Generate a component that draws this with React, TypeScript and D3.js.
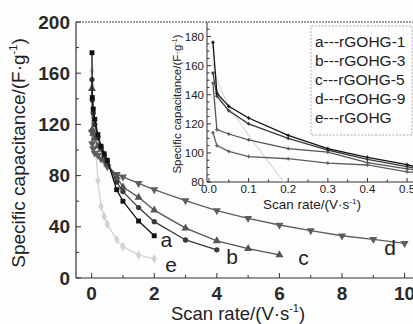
import * as d3 from 'd3';

// scan rates shared by every sample (V/s)
const rates = [0.01, 0.02, 0.05, 0.1, 0.2, 0.3, 0.4, 0.5, 0.8, 1, 1.5, 2, 3, 4, 5, 6, 7, 8, 9, 10];

// specific capacitance (F/g), one value per rate until the series stops
const capA = [176, 141, 132, 124, 112, 103, 97, 92, 69, 60, 44.5, 33];
const capB = [155, 139, 129, 120, 110, 102, 95.6, 90.5, 75, 67.5, 55, 44, 29.7, 22];
const capC = [148, 116, 113, 109, 103, 100.5, 93.3, 89, 79, 71, 63, 53, 39, 29, 23, 18];
const capD = [114, 105, 101, 97.5, 96, 93, 91.7, 87, 81, 79, 74, 69, 60.4, 52.6, 46.6, 41.4, 37, 33, 30.2, 27];
const capE = [162, 150, 132, 112, 76, 56, 48, 42, 30, 24.5, 18, 15];

const seriesKeys = ['a', 'b', 'c', 'd', 'e'];
const legendLabels = ['a---rGOHG-1', 'b---rGOHG-3', 'c---rGOHG-5', 'd---rGOHG-9', 'e---rGOHG'];

const mainYTicks = [0, 40, 80, 120, 160, 200];
const mainXTicks = [0, 2, 4, 6, 8, 10];
const insetYTicks = [80, 100, 120, 140, 160, 180];
const insetXTicks = [0, 0.1, 0.2, 0.3, 0.4, 0.5];

const W = 413;
const H = 324;
const FONT = 'Arial, "Liberation Sans", Helvetica, sans-serif';

const styles: Record<string, { color: string; symbol: d3.SymbolType; size: number; rotate: number }> = {
  a: { color: '#111', symbol: d3.symbolSquare, size: 24, rotate: 0 },
  b: { color: '#3a3a3a', symbol: d3.symbolCircle, size: 22, rotate: 0 },
  c: { color: '#555', symbol: d3.symbolTriangle, size: 28, rotate: 0 },
  d: { color: '#5e5e5e', symbol: d3.symbolTriangle, size: 28, rotate: 180 },
  e: { color: '#d2d2d2', symbol: d3.symbolDiamond, size: 26, rotate: 0 },
};

// where each letter tag sits next to the end of its curve (data coords)
const tagPos: Record<string, [number, number]> = {
  a: [2.2, 24],
  b: [4.3, 11],
  c: [6.6, 10],
  d: [9.35, 18],
  e: [2.35, 5],
};

function App() {
  const all = [capA, capB, capC, capD, capE];
  const data = seriesKeys.map((k, i) => ({
    key: k,
    points: all[i].map((v, j) => [rates[j], v] as [number, number]),
  }));

  // main plot scales
  const x = d3.scaleLinear().domain([-0.5, 10.3]).range([76, 414]);
  const y = d3.scaleLinear().domain([0, 200]).range([278, 22]);

  // inset scales
  const ix = d3.scaleLinear().domain([-0.005, 0.52]).range([207, 415]);
  const iy = d3.scaleLinear().domain([80, 190]).range([182, 22]);

  const line = d3.line<[number, number]>().x(d => x(d[0])).y(d => y(d[1]));
  const iline = d3.line<[number, number]>().x(d => ix(d[0])).y(d => iy(d[1]));

  const mainMinorY = d3.range(0, 201, 20).filter(v => !mainYTicks.includes(v));
  const mainMinorX = d3.range(-0, 11, 1).filter(v => !mainXTicks.includes(v));
  const insetMinorY = d3.range(85, 190, 5).filter(v => v % 20 !== 0);
  const insetMinorX = d3.range(0.05, 0.52, 0.1);

  // draw e first so the dark curves sit on top
  const order = ['e', 'd', 'c', 'b', 'a'];

  return (
    <svg width={W} height={H} style={{ position: 'fixed', left: 0, top: 0, background: '#fff' }} fontFamily={FONT}>
      <defs>
        <clipPath id="insetClip">
          <rect x={207} y={22} width={210} height={160} />
        </clipPath>
      </defs>
      <rect width={W} height={H} fill="#fdfdfd" />

      {/* main frame */}
      <line x1={76} x2={W} y1={22} y2={22} stroke="#444" strokeWidth={1} strokeDasharray="2,1" />
      <line x1={76} x2={76} y1={22} y2={278} stroke="#333" strokeWidth={1.2} />
      <line x1={76} x2={W} y1={278} y2={278} stroke="#333" strokeWidth={1.2} />

      {/* main y ticks */}
      {mainYTicks.map(t => (
        <g key={'my' + t}>
          <line x1={76} x2={81} y1={y(t)} y2={y(t)} stroke="#333" />
          <text x={70} y={y(t)} dy="0.35em" textAnchor="end" fontSize={19} fontWeight="bold" fill="#2a2a2a">{t}</text>
        </g>
      ))}
      {mainMinorY.map(t => (
        <line key={'mmy' + t} x1={76} x2={79} y1={y(t)} y2={y(t)} stroke="#333" />
      ))}
      {/* main x ticks */}
      {mainXTicks.map(t => (
        <g key={'mx' + t}>
          <line x1={x(t)} x2={x(t)} y1={278} y2={273} stroke="#333" />
          <text x={x(t)} y={300} textAnchor="middle" fontSize={19} fontWeight="bold" fill="#2a2a2a">{t}</text>
        </g>
      ))}
      {mainMinorX.map(t => (
        <line key={'mmx' + t} x1={x(t)} x2={x(t)} y1={278} y2={275} stroke="#333" />
      ))}

      {/* axis titles */}
      <text x={238} y={320} textAnchor="middle" fontSize={18.5} fill="#222">
        Scan rate/(V·s<tspan fontSize={11} dy={-8}>-1</tspan><tspan dy={8}>)</tspan>
      </text>
      <text transform="translate(25,153) rotate(-90)" textAnchor="middle" fontSize={19} fill="#222">
        Specific capacitance/(F·g<tspan fontSize={11} dy={-8}>-1</tspan><tspan dy={8}>)</tspan>
      </text>

      {/* main curves */}
      {order.map(k => {
        const s = data.find(d => d.key === k)!;
        const st = styles[k];
        const sym = d3.symbol().type(st.symbol).size(st.size)()!;
        return (
          <g key={'m' + k}>
            <path d={line(s.points)!} fill="none" stroke={st.color} strokeWidth={1.3} />
            {s.points.map((p, j) => (
              <path key={j} d={sym} fill={st.color}
                transform={`translate(${x(p[0])},${y(p[1])}) rotate(${st.rotate})`} />
            ))}
          </g>
        );
      })}

      {/* curve tags */}
      {seriesKeys.map(k => (
        <text key={'t' + k} x={x(tagPos[k][0])} y={y(tagPos[k][1])} fontSize={21} fill="#222">{k}</text>
      ))}

      {/* inset axes */}
      <line x1={207} x2={207} y1={22} y2={182} stroke="#333" strokeWidth={1} />
      <line x1={207} x2={W} y1={182} y2={182} stroke="#333" strokeWidth={1} />
      {insetYTicks.map(t => (
        <g key={'iy' + t}>
          <line x1={207} x2={211} y1={iy(t)} y2={iy(t)} stroke="#333" />
          <text x={204} y={iy(t)} dy="0.35em" textAnchor="end" fontSize={11.5} fill="#222">{t}</text>
        </g>
      ))}
      {insetMinorY.map(t => (
        <line key={'imy' + t} x1={207} x2={209.5} y1={iy(t)} y2={iy(t)} stroke="#333" />
      ))}
      {insetXTicks.map(t => (
        <g key={'ix' + t}>
          <line x1={ix(t)} x2={ix(t)} y1={182} y2={178} stroke="#333" />
          <text x={ix(t)} y={193} textAnchor="middle" fontSize={11.5} fill="#222">{t.toFixed(1)}</text>
        </g>
      ))}
      {insetMinorX.map(t => (
        <line key={'imx' + t} x1={ix(t)} x2={ix(t)} y1={182} y2={179.5} stroke="#333" />
      ))}
      <text x={312} y={209} textAnchor="middle" fontSize={13.5} fill="#222">
        Scan rate/(V·s<tspan fontSize={8} dy={-5}>-1</tspan><tspan dy={5}>)</tspan>
      </text>
      <text transform="translate(181,104) rotate(-90)" textAnchor="middle" fontSize={11.5} fill="#222">
        Specific capacitance/(F·g<tspan fontSize={7} dy={-4}>-1</tspan><tspan dy={4}>)</tspan>
      </text>

      {/* inset curves */}
      <g clipPath="url(#insetClip)">
        {order.map(k => {
          const s = data.find(d => d.key === k)!;
          const st = styles[k];
          const pts = s.points.filter(p => p[0] <= 0.8);
          const sym = d3.symbol().type(d3.symbolCross).size(7)()!;
          return (
            <g key={'i' + k}>
              <path d={iline(pts)!} fill="none" stroke={k === 'e' ? '#dcdcdc' : st.color} strokeWidth={1.3} />
              {k !== 'e' && pts.map((p, j) => (
                <path key={j} d={sym} fill={st.color}
                  transform={`translate(${ix(p[0])},${iy(p[1])})`} />
              ))}
            </g>
          );
        })}
      </g>

      {/* legend */}
      <rect x={311} y={26} width={101} height={109} fill="none" stroke="#999" strokeWidth={0.8} strokeDasharray="2,1.5" />
      {legendLabels.map((l, i) => (
        <text key={l} x={315} y={47 + i * 19} fontSize={15.5} fill="#222">{l}</text>
      ))}
    </svg>
  );
}

export default App;
